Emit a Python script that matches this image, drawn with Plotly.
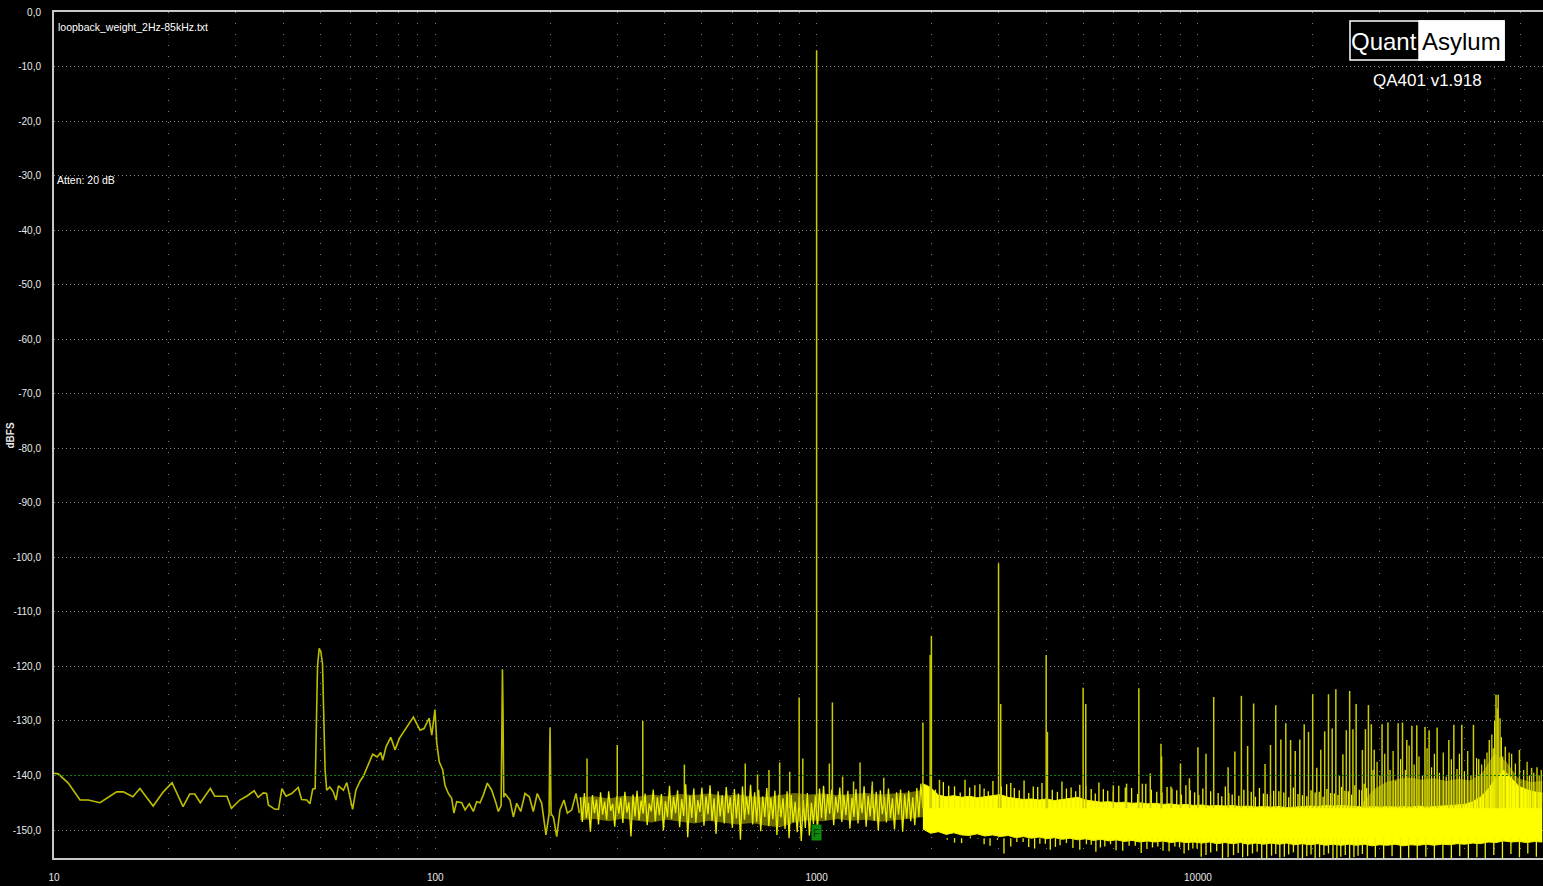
import numpy as np
import plotly.graph_objects as go

# ---------------- data ----------------
# low-frequency part of the spectrum (Hz, dBFS)
low_f = [10.0, 10.26, 10.9, 11.7, 12.3, 13.2, 14.6, 15.2, 16.1, 16.8,
         18.2, 19.35, 20.4, 21.8, 22.7, 23.4, 24.2, 25.7, 26.4, 28.4,
         29.2, 30.7, 32.0, 33.5, 34.3, 35.4, 36.1, 36.5, 38.0, 38.8,
         39.6, 40.6, 42.0, 43.7, 44.6, 46.0, 46.9, 47.7, 48.4, 48.7,
         49.1, 49.6, 50.1, 50.6, 51.0, 51.4, 51.9, 52.9, 54.0, 54.9,
         55.7, 57.4, 58.6, 59.7, 60.7, 61.9, 63.5, 64.7, 66.7, 68.5,
         70.4, 71.9, 72.8, 74.3, 76.4, 78.4, 80.5, 83.3, 87.6, 91.2,
         93.4, 96.3, 97.9, 99.8, 100.9, 102.4, 104.6, 106.0, 108.2, 110.4,
         111.9, 113.8, 117.3, 119.7, 122.8, 125.8, 128.4, 131.0, 133.6, 136.9,
         140.6, 144.3, 146.3, 148.8, 149.6, 150.0, 150.5, 151.2, 152.3, 157.0,
         160.2, 163.5, 167.5, 171.9, 176.4, 180.7, 185.1, 190.1, 195.1, 198.8,
         199.6, 200.0, 200.5, 201.2, 204.0, 208.2, 212.3, 217.5, 222.0, 227.9,
         233.9, 238.6]
low_db = [-139.6, -139.7, -141.4, -144.5, -144.5, -145.0, -143.0, -143.0, -143.9, -142.4,
          -145.6, -143.0, -141.3, -145.7, -143.4, -143.4, -145.0, -142.4, -143.8, -143.8,
          -146.0, -144.5, -143.8, -142.8, -144.0, -143.2, -143.3, -145.4, -146.2, -146.2,
          -142.4, -143.8, -143.3, -142.2, -144.4, -144.5, -145.2, -142.5, -142.4, -131.0,
          -120.0, -116.7, -117.3, -119.5, -128.0, -139.0, -142.7, -142.1, -143.0, -144.5,
          -141.9, -142.7, -141.3, -143.6, -146.2, -142.7, -141.0, -140.2, -138.1, -136.1,
          -136.6, -135.8, -137.2, -134.7, -133.0, -135.3, -133.2, -131.7, -129.3, -131.7,
          -131.4, -129.5, -132.6, -127.9, -134.1, -137.5, -139.0, -141.8, -143.3, -144.2,
          -146.9, -144.8, -145.0, -146.3, -145.2, -146.6, -144.8, -145.0, -143.6, -141.4,
          -142.7, -145.1, -146.6, -145.5, -125.0, -120.5, -128.0, -144.0, -143.3, -144.5,
          -147.6, -145.1, -146.6, -143.3, -143.9, -146.6, -143.3, -145.1, -150.9, -147.0,
          -135.0, -131.2, -138.0, -147.0, -147.6, -151.2, -146.3, -144.5, -146.9, -146.3,
          -143.3, -146.9]

# noise floor 240 Hz .. 1.9 kHz (log-spaced readings)
mid_f_start, mid_f_stop = 240.0, 1900.0
mid_db = [-144.0, -148.5, -143.2, -147.8, -145.0, -150.3, -143.6, -146.9, -144.4, -149.0,
          -143.1, -147.2, -144.8, -148.1, -142.9, -146.5, -145.2, -149.4, -143.8, -147.0,
          -144.1, -148.7, -143.0, -146.8, -144.9, -151.2, -143.5, -147.5, -142.8, -148.2,
          -144.6, -147.0, -143.3, -149.1, -145.1, -146.6, -142.6, -148.4, -144.0, -147.3,
          -143.4, -150.1, -144.7, -147.6, -141.9, -148.0, -143.9, -146.9, -142.7, -149.5,
          -144.3, -147.4, -141.6, -151.3, -143.7, -147.8, -142.4, -148.6, -144.5, -146.7,
          -142.2, -149.2, -143.8, -147.1, -141.8, -148.3, -144.2, -150.7, -142.9, -147.5,
          -143.6, -148.8, -142.1, -146.9, -144.0, -149.6, -142.5, -147.9, -143.3, -151.8,
          -142.0, -148.1, -143.9, -147.2, -141.7, -149.0, -143.1, -148.5, -142.6, -150.2,
          -143.8, -147.6, -142.3, -149.3, -144.1, -148.0, -142.8, -150.9, -143.5, -147.7,
          -144.2, -149.8, -142.9, -151.5, -143.6, -148.6, -144.8, -150.4, -143.9, -152.0,
          -144.5, -149.6, -143.2, -151.0, -145.0, -148.9, -143.7, -150.0, -142.4, -147.8,
          -141.9, -148.2, -143.4, -147.0, -142.6, -149.1, -143.9, -146.8, -142.2, -148.5,
          -143.6, -147.3, -142.8, -149.7, -144.1, -147.6, -142.5, -148.8, -143.3, -146.9,
          -142.0, -149.4, -143.7, -147.5, -141.8, -148.3, -143.0, -150.1, -142.7, -147.1,
          -143.9, -148.6, -142.4, -147.8, -144.2, -149.9, -143.1, -147.2, -142.6, -150.3,
          -143.5, -147.9, -142.8, -148.4, -144.0, -149.1, -142.3, -147.6, -141.5, -146.0]
# body of that noise (upper / lower edge, log-spaced readings)
mid_band_hi = [-144.0, -143.8, -144.2, -143.7, -143.9, -143.5, -143.8, -143.4, -143.6, -143.3,
               -143.7, -143.5, -143.8, -144.0, -143.6, -143.2, -143.5, -143.3, -143.6, -143.4,
               -143.2, -143.5, -143.3, -143.1, -142.6]
mid_band_lo = [-148.2, -148.0, -148.4, -147.9, -148.3, -148.6, -148.1, -148.5, -148.8, -148.3,
               -148.6, -149.0, -148.7, -149.2, -149.5, -148.6, -148.2, -148.4, -148.0, -148.3,
               -148.1, -148.5, -148.2, -148.0, -147.6]

# dense noise band 1.9 kHz .. 80 kHz (log-spaced readings, upper / lower edge)
band_f_start, band_f_stop = 1900.0, 80000.0
band_hi = [-141.5, -142.2, -143.6, -143.9, -143.7, -144.0, -143.8, -144.1, -143.9, -143.7,
           -143.5, -144.0, -144.2, -144.4, -144.3, -144.5, -144.3, -144.6, -144.4, -144.2,
           -144.0, -144.5, -144.7, -144.9, -144.8, -145.0, -144.9, -145.1, -145.0, -145.2,
           -145.1, -145.3, -145.2, -145.4, -145.3, -145.5, -145.4, -145.6, -145.5, -145.6,
           -145.5, -145.7, -145.6, -145.8, -145.7, -145.8, -145.7, -145.9, -145.8, -145.7,
           -145.6, -145.7, -145.5, -145.6, -145.5, -145.6, -145.7, -145.8, -145.7, -145.8,
           -145.7, -145.8, -145.7, -145.8, -145.6, -145.8, -145.7, -145.6, -145.5, -145.4,
           -145.3, -144.8, -144.0, -142.5, -140.5, -139.0, -140.5, -142.0, -142.6, -143.0,
           -143.2]
band_lo = [-149.8, -150.6, -150.3, -150.8, -150.5, -150.9, -151.0, -150.7, -151.1, -150.9,
           -151.2, -151.0, -151.4, -151.2, -151.5, -151.3, -151.6, -151.4, -151.7, -151.5,
           -151.8, -151.6, -151.9, -151.7, -152.0, -151.8, -152.1, -151.9, -152.2, -152.0,
           -152.2, -152.0, -152.3, -152.1, -152.3, -152.2, -152.4, -152.2, -152.5, -152.3,
           -152.5, -152.3, -152.6, -152.4, -152.6, -152.4, -152.6, -152.4, -152.7, -152.5,
           -152.7, -152.5, -152.8, -152.6, -152.8, -152.6, -152.8, -152.6, -152.9, -152.7,
           -152.8, -152.6, -152.9, -152.7, -152.8, -152.6, -152.8, -152.6, -152.7, -152.5,
           -152.6, -152.4, -152.5, -152.2, -152.3, -152.0, -152.2, -152.1, -152.3, -152.1,
           -152.2]

# semi-dense haze of small spurs above the band, 27 kHz .. 80 kHz
haze_f_start, haze_f_stop = 27000.0, 80000.0
haze_hi = [-145.0, -142.5, -141.2, -140.6, -140.4, -140.8, -140.5, -141.0, -140.6, -140.9,
           -139.5, -136.0, -137.5, -140.5, -141.2, -141.0]
haze_lo = [-146.0, -145.8, -146.0, -145.9, -146.0, -145.8, -146.0, -145.9, -146.0, -145.8,
           -145.5, -144.0, -144.5, -145.0, -145.2, -145.0]

# fine texture of the band: short spikes above and dips below it
fuzz_up_f = [2150, 2300, 2450, 2600, 2750, 2900, 3150, 3300, 3500, 3700,
             3900, 4150, 4400, 4650, 4900, 5250, 5500, 5800, 6200, 6700,
             7300, 7800, 8300, 8800, 9300, 9800, 10300, 11300, 11800, 12300,
             13200, 13800, 14500, 15200, 15800, 16800, 17800, 18800, 19800, 20800,
             21800, 22800, 23800, 24800, 25800, 26500, 27300,
             2050, 2220, 2380, 2520, 2680, 2820, 3050, 3230, 3400, 3600,
             3800, 4020, 4280, 4520, 4780, 5080, 5380, 5650, 6000, 6450,
             6950, 7550, 8050, 8550, 9050, 9550, 10050, 10800, 11550, 12050,
             12800, 13500, 14150, 14850, 15500, 16300, 17300, 18300, 19300, 20300,
             21300, 22300, 23300, 24300, 25300, 26900, 27700]
fuzz_up_db = [-141.2, -142.0, -140.8, -141.8, -142.4, -141.0, -141.6, -142.3, -140.9, -142.0,
              -141.4, -142.6, -141.1, -142.2, -141.7, -142.5, -141.3, -142.8, -141.9, -142.3,
              -141.5, -143.0, -142.1, -142.7, -141.8, -143.1, -142.4, -143.2, -142.0, -143.5,
              -142.6, -143.0, -142.3, -143.4, -142.8, -143.1, -142.2, -143.6, -142.7, -143.0,
              -142.5, -143.3, -142.1, -142.9, -141.8, -142.6, -141.5,
              -142.6, -141.9, -143.1, -142.2, -141.6, -142.9, -142.0, -141.4, -142.7, -143.2,
              -142.1, -141.8, -143.0, -142.4, -142.9, -141.9, -143.3, -142.5, -143.0, -142.2,
              -143.4, -142.6, -143.1, -142.4, -143.5, -142.7, -143.6, -142.9, -143.8, -143.2,
              -143.7, -142.8, -143.9, -143.3, -143.6, -142.9, -144.0, -143.4, -143.8, -143.1,
              -143.9, -143.2, -143.6, -142.8, -143.5, -142.7, -142.3]
fuzz_dn_f = [2200, 2400, 2650, 2850, 3100, 3350, 3600, 3850, 4100, 4350,
             4700, 5100, 5400, 5700, 6100, 6600, 7100, 7600, 8100, 8700,
             9200, 9700, 10200, 10800, 11600, 12400, 13100, 13900, 14700, 15600,
             16400, 17300, 18300, 19300, 20300, 21400, 22600, 23700, 25000, 26300,
             27800, 29200, 30700, 32300, 34000, 35700, 37600, 39600, 41700, 43900,
             46200, 48600, 51200, 53900, 56700, 59700, 62900, 66200, 69700, 73300,
             77200,
             2100, 2300, 2530, 2750, 2980, 3230, 3480, 3730, 3980, 4230,
             4520, 4900, 5250, 5550, 5900, 6350, 6850, 7350, 7850, 8400,
             8950, 9450, 9950, 10500, 11200, 12000, 12750, 13500, 14300, 15150,
             16000, 16850, 17800, 18800, 19800, 20850, 22000, 23150, 24350, 25650,
             27000]
fuzz_dn_db = [-151.8, -152.4, -151.6, -152.9, -154.3, -152.2, -153.1, -152.5, -153.6, -152.8,
              -153.3, -152.6, -154.0, -153.0, -153.7, -152.9, -154.2, -153.2, -153.8, -153.0,
              -154.3, -153.4, -154.9, -154.1, -155.5, -154.6, -155.0, -154.3, -155.5, -154.7,
              -155.1, -154.5, -155.5, -154.8, -155.2, -154.6, -155.5, -154.9, -155.3, -154.7,
              -155.5, -155.0, -155.4, -154.8, -155.5, -155.1, -155.5, -154.9, -155.5, -155.2,
              -155.5, -154.8, -155.4, -155.0, -155.5, -154.6, -155.2, -154.4, -155.0, -154.3,
              -154.9,
              -151.5, -152.3, -151.2, -152.6, -151.8, -153.0, -152.2, -153.4, -152.5, -153.1,
              -152.4, -153.6, -152.7, -153.2, -152.6, -153.8, -152.9, -153.5, -153.0, -153.9,
              -153.2, -153.7, -153.4, -154.6, -153.9, -155.0, -154.2, -154.8, -154.0, -155.2,
              -154.4, -154.9, -154.1, -155.3, -154.5, -155.0, -154.3, -155.2, -154.6, -155.0,
              -154.4]

# fundamental, harmonics and spurs (Hz, dBFS peak)
spur_f = [250, 300, 350, 450, 650, 700, 750, 800, 850, 900,
          920, 1000, 1080, 1100, 1170, 1250, 1300, 1400, 1500, 1900,
          1985, 2000, 2100, 3000, 3040, 4000, 4030, 5000, 5080, 6000,
          6500, 7000, 7150, 7500, 8000, 8030, 8500, 9000, 9500, 10000,
          10500, 11000, 12000, 12500, 13000, 13500, 14000, 15000, 15500, 16000,
          16500, 17000, 17500, 18000, 18500, 19000, 19500, 20000, 20500, 21000,
          21500, 22000, 22500, 23000, 23500, 24000, 24500, 25000, 25500, 26000,
          27000, 27500, 28000, 28500, 29000, 30400, 31500, 33500, 34400, 35300,
          36400, 37500, 39400, 40400, 42400, 45500, 46900, 49200, 52800, 54500,
          56500, 58100, 60500, 61000, 61300, 64000, 69700, 75000, 77500]
spur_db = [-136.9, -134.4, -130.0, -138.0, -137.8, -139.8, -139.0, -137.6, -139.3, -125.7,
           -136.9, -7.0, -137.8, -126.6, -140.2, -141.1, -137.6, -141.1, -140.4, -130.3,
           -117.9, -114.4, -140.8, -101.1, -126.9, -117.9, -132.0, -123.9, -126.9, -141.8,
           -141.5, -124.0, -141.5, -139.6, -134.2, -136.5, -142.0, -137.8, -140.5, -134.8,
           -136.0, -125.6, -138.5, -135.6, -125.4, -134.6, -126.8, -137.9, -134.4, -127.1,
           -133.4, -130.4, -133.5, -135.5, -133.4, -130.6, -132.0, -125.1, -138.6, -135.3,
           -131.9, -125.1, -131.4, -124.2, -140.0, -136.1, -131.7, -124.5, -131.5, -126.9,
           -135.3, -131.5, -127.1, -130.6, -135.3, -130.6, -130.3, -130.4, -130.3, -133.5,
           -130.9, -130.8, -131.1, -131.7, -131.2, -133.5, -130.7, -130.7, -130.7, -137.0,
           -137.0, -133.5, -125.2, -127.7, -125.2, -134.7, -135.3, -138.6, -138.5]

# small spurs ("grass") above the dense band
grass_f = [28800, 29500, 30000, 30900, 31900, 32500, 33000, 34000, 35000, 35800,
           36900, 38000, 38800, 39900, 41000, 41700, 43000, 44000, 44800, 46200,
           47800, 48500, 50000, 51000, 52000, 53800, 55500, 57300, 59000, 59500,
           60000, 62000, 62500, 63000, 65500, 66500, 68000, 71500, 73000, 74000,
           76000, 78500, 79500]
grass_db = [-139.0, -137.5, -140.0, -136.0, -139.0, -135.5, -141.0, -137.0, -139.0, -134.5,
            -138.0, -136.5, -140.0, -135.0, -138.5, -136.0, -139.5, -135.8, -140.2, -137.0,
            -138.8, -136.0, -139.2, -135.5, -140.0, -136.8, -138.0, -135.8, -132.5, -135.0,
            -130.0, -129.5, -133.0, -136.5, -135.8, -136.0, -137.8, -139.0, -137.5, -140.0,
            -139.5, -140.0, -139.0]
spur_base = -146.0
dip_base = -151.5

ref_level = -140.0          # green reference line
marker_f, marker_db = 1000, -150.4   # "F" marker

y_ticks = [0, -10, -20, -30, -40, -50, -60, -70, -80, -90, -100, -110, -120, -130, -140, -150]
x_decades = [10, 100, 1000, 10000]

title_text = "loopback_weight_2Hz-85kHz.txt"
atten_text = "Atten: 20 dB"
version_text = "QA401 v1.918"

# ---------------- figure ----------------
W, H = 1543, 886
ML, MR, MT, MB = 54, 0, 12, 28
PW, PH = W - ML - MR, H - MT - MB
def px(x):
    return (x - ML) / PW
def py(y):
    return (H - MB - y) / PH

FONT = "Liberation Sans, Arial, sans-serif"

mid_f = np.geomspace(mid_f_start, mid_f_stop, len(mid_db))
mid_band_f = np.geomspace(mid_f_start, mid_f_stop, len(mid_band_hi))
band_f = np.geomspace(band_f_start, band_f_stop, len(band_hi))
haze_f = np.geomspace(haze_f_start, haze_f_stop, len(haze_hi))

def segs(fs, tops, base):
    xs, ys = [], []
    for f, d in zip(fs, tops):
        xs += [f, f, None]
        ys += [base, d, None]
    return xs, ys

fig = go.Figure()

def band(xv, lo, hi, fill, edge="rgba(0,0,0,0)", w=0):
    fig.add_trace(go.Scatter(x=xv, y=lo, mode="lines", line=dict(color=edge, width=w),
                             hoverinfo="skip"))
    fig.add_trace(go.Scatter(x=xv, y=hi, mode="lines", fill="tonexty", fillcolor=fill,
                             line=dict(color=edge, width=w), hoverinfo="skip"))

# body of the mid noise
band(mid_band_f, mid_band_lo, mid_band_hi, "rgba(190,190,0,0.55)")
# haze of small spurs
band(haze_f, haze_lo, haze_hi, "rgba(225,225,0,0.5)")
# dense band
band(band_f, band_lo, band_hi, "#ffff00", "#f4f400", 1)

ux, uy = segs(fuzz_up_f, fuzz_up_db, spur_base)
fig.add_trace(go.Scatter(x=ux, y=uy, mode="lines", line=dict(color="#f0f000", width=1.3),
                         hoverinfo="skip"))
dx, dy = segs(fuzz_dn_f, fuzz_dn_db, dip_base)
fig.add_trace(go.Scatter(x=dx, y=dy, mode="lines", line=dict(color="#f0f000", width=1.3),
                         hoverinfo="skip"))

# mid noise
fig.add_trace(go.Scatter(x=mid_f, y=mid_db, mode="lines",
                         line=dict(color="#eeee00", width=1.3), hoverinfo="skip"))
# low spectrum
fig.add_trace(go.Scatter(x=low_f, y=low_db, mode="lines",
                         line=dict(color="#bebe00", width=1.6), hoverinfo="skip"))

# spurs as vertical lines
sx, sy = segs(spur_f, spur_db, spur_base)
fig.add_trace(go.Scatter(x=sx, y=sy, mode="lines",
                         line=dict(color="#cccc00", width=1.5), hoverinfo="skip"))
gx, gy = segs(grass_f, grass_db, spur_base)
fig.add_trace(go.Scatter(x=gx, y=gy, mode="lines",
                         line=dict(color="#e6e600", width=1.2), hoverinfo="skip"))

# green reference line
fig.add_shape(type="line", xref="paper", x0=0, x1=1, yref="y", y0=ref_level, y1=ref_level,
              line=dict(color="#0e7a0e", width=1, dash="2px,2px"))

# axes
grid_vals = [m * 10 ** d for d in range(1, 5) for m in range(1, 10)]
grid_text = [str(v) if v in x_decades else "" for v in grid_vals]
fig.update_xaxes(type="log", range=[1, 4.905], tickvals=grid_vals, ticktext=grid_text,
                 showgrid=True, gridcolor="#7a7a7a", gridwidth=1, griddash="1px,10px",
                 showline=True, linecolor="#c8c8c8", linewidth=2, mirror=True,
                 ticks="", tickfont=dict(family=FONT, size=10, color="#e8e8e8"),
                 ticklabelstandoff=9, zeroline=False)
fig.update_yaxes(range=[-155.13, 0], tickvals=y_ticks,
                 ticktext=[f"{v:.1f}".replace(".", ",") for v in y_ticks],
                 showgrid=True, gridcolor="#8a8a8a", gridwidth=1, griddash="1px,3px",
                 showline=True, linecolor="#c8c8c8", linewidth=2, mirror=False,
                 ticks="", tickfont=dict(family=FONT, size=10, color="#e8e8e8"),
                 ticklabelstandoff=9, zeroline=False)

# annotations
fig.add_annotation(xref="paper", yref="paper", x=px(2), y=py(435), text="<b>dBFS</b>",
                   textangle=-90, showarrow=False, xanchor="left",
                   font=dict(family=FONT, size=10, color="#e8e8e8"))
fig.add_annotation(xref="paper", yref="paper", x=px(56), y=py(27), text=title_text,
                   xanchor="left", yanchor="middle", showarrow=False,
                   font=dict(family=FONT, size=10.5, color="#ffffff"))
fig.add_annotation(xref="paper", yref="paper", x=px(55), y=py(180), text=atten_text,
                   xanchor="left", yanchor="middle", showarrow=False,
                   font=dict(family=FONT, size=10.5, color="#ffffff"))
fig.add_annotation(x=np.log10(marker_f), y=marker_db, text="F", showarrow=False,
                   bgcolor="#0d8a0d", font=dict(family=FONT, size=11, color="#043804"),
                   width=9, height=15, borderpad=0)

# logo
fig.add_shape(type="rect", xref="paper", yref="paper", x0=px(1350), x1=px(1504), y0=py(60), y1=py(21),
              line=dict(color="#ffffff", width=1.5), fillcolor="#000000", layer="above")
fig.add_shape(type="rect", xref="paper", yref="paper", x0=px(1419), x1=px(1504), y0=py(60), y1=py(21),
              line=dict(color="#ffffff", width=1.5), fillcolor="#ffffff", layer="above")
fig.add_annotation(xref="paper", yref="paper", x=px(1384), y=py(41), text="Quant",
                   xanchor="center", yanchor="middle", showarrow=False,
                   font=dict(family=FONT, size=24, color="#ffffff"))
fig.add_annotation(xref="paper", yref="paper", x=px(1461), y=py(41), text="Asylum",
                   xanchor="center", yanchor="middle", showarrow=False,
                   font=dict(family=FONT, size=24, color="#000000"))
fig.add_annotation(xref="paper", yref="paper", x=px(1427), y=py(80), text=version_text,
                   xanchor="center", yanchor="middle", showarrow=False,
                   font=dict(family=FONT, size=17, color="#ffffff"))

fig.update_layout(width=W, height=H, autosize=False,
                  margin=dict(l=ML, r=MR, t=MT, b=MB),
                  paper_bgcolor="#000000", plot_bgcolor="#000000",
                  showlegend=False)

fig.write_html("out.html")
